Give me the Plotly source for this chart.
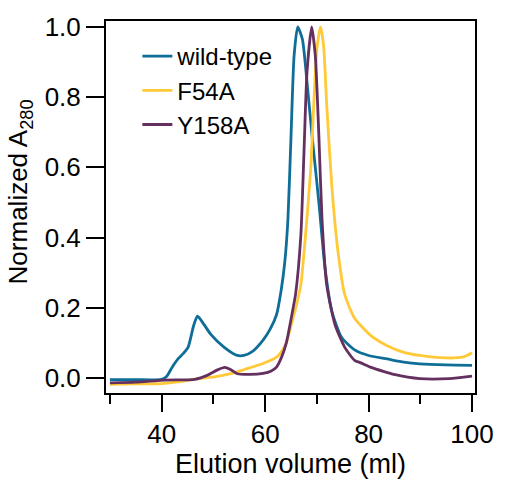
import plotly.graph_objects as go

# ---- data ----
wt_vol = [30, 35, 40, 41, 42, 43.2, 44.2, 45.1, 46.2, 46.9, 47.6, 49.5, 52.1, 54.6, 55.9, 57.5,
          59.6, 61.0, 62.2, 63.1, 63.8, 64.4, 65.0, 65.6, 66.3, 67.2, 68.2, 69.1, 70.4, 71.6,
          72.9, 74.8, 77.3, 80.0, 83.6, 86.8, 89.9, 95.0, 100]
wt_abs = [-0.005, -0.005, -0.004, 0.005, 0.03, 0.055, 0.07, 0.087, 0.15, 0.176, 0.165, 0.124,
          0.087, 0.064, 0.064, 0.075, 0.108, 0.14, 0.18, 0.25, 0.33, 0.45, 0.686, 0.918, 1.0,
          0.965, 0.826, 0.686, 0.498, 0.311, 0.19, 0.115, 0.08, 0.064, 0.054, 0.045, 0.04,
          0.037, 0.036]

f54a_vol = [30, 35, 40, 44, 47, 50.2, 53.3, 56.0, 59.6, 62.2, 63.4, 64.1, 65.3, 66.1, 66.9,
            67.8, 68.8, 69.4, 70.0, 70.7, 71.3, 71.9, 72.9, 74.1, 75.4, 77.3, 80.5, 83.6,
            86.8, 89.9, 94.9, 98.1, 99.0, 100]
f54a_abs = [-0.018, -0.017, -0.016, -0.01, -0.002, 0.003, 0.012, 0.024, 0.041, 0.059, 0.08,
            0.1, 0.165, 0.21, 0.265, 0.405, 0.592, 0.779, 0.937, 1.0, 0.947, 0.779, 0.545,
            0.358, 0.237, 0.17, 0.12, 0.092, 0.073, 0.064, 0.057, 0.059, 0.064, 0.072]

y158a_vol = [30, 35, 40.7, 46.4, 48.9, 50.8, 52.2, 53.2, 54.6, 57.1, 59.6, 61.2, 62.2, 63.2,
             64.1, 65.3, 65.9, 66.9, 67.5, 68.1, 69.0, 69.7, 70.4, 71.0, 71.9, 73.5, 75.4,
             77.3, 78.5, 80.5, 83.0, 84.9, 89.9, 95.6, 100]
y158a_abs = [-0.014, -0.012, -0.006, -0.004, 0.008, 0.023, 0.03, 0.025, 0.012, 0.010, 0.013,
             0.02, 0.031, 0.06, 0.1, 0.19, 0.24, 0.405, 0.638, 0.872, 1.0, 0.918, 0.685, 0.451,
             0.265, 0.152, 0.087, 0.05, 0.043, 0.03, 0.018, 0.01, -0.002, -0.002, 0.005]

names = ["wild-type", "F54A", "Y158A"]
colors = ["#0E6E98", "#FFC938", "#64305F"]

FONT = "Liberation Sans, Arial, Helvetica, sans-serif"

fig = go.Figure()
for name, xs, ys, c in zip(names, [wt_vol, f54a_vol, y158a_vol],
                           [wt_abs, f54a_abs, y158a_abs], colors):
    fig.add_trace(go.Scatter(x=xs, y=ys, mode="lines", name=name,
                             line=dict(color=c, width=2.8, shape="spline", smoothing=0.6)))

fig.update_layout(
    width=506, height=485,
    margin=dict(l=106, r=23, t=15, b=92),
    plot_bgcolor="white", paper_bgcolor="white",
    font=dict(family=FONT, size=26, color="black"),
    showlegend=True,
    legend=dict(x=0.085, y=0.965, xanchor="left", yanchor="top",
                bgcolor="rgba(0,0,0,0)", borderwidth=0,
                font=dict(family=FONT, size=24), tracegroupgap=0),
    xaxis=dict(range=[29.24, 100.57], showgrid=False, zeroline=False,
               showline=True, linecolor="black", linewidth=2, mirror=True,
               ticks="outside", ticklen=17, tickwidth=2, tickcolor="black",
               tick0=0, dtick=20, tickfont=dict(size=26),
               minor=dict(dtick=10, ticks="outside", ticklen=9, tickwidth=2,
                          tickcolor="black", showgrid=False),
               title=dict(text="Elution volume (ml)", standoff=4,
                          font=dict(size=27))),
    yaxis=dict(range=[-0.0429, 1.0168], showgrid=False, zeroline=False,
               showline=True, linecolor="black", linewidth=2, mirror=True,
               ticks="outside", ticklen=18, tickwidth=2, tickcolor="black",
               tick0=0, dtick=0.2, tickformat=".1f", tickfont=dict(size=26)),
    annotations=[dict(text="Normalized A<sub>280</sub>", xref="paper", yref="paper",
                      x=-0.235, y=0.54, xanchor="center", yanchor="middle",
                      textangle=-90, showarrow=False, font=dict(size=26))],
)

fig.write_html("out.html")
